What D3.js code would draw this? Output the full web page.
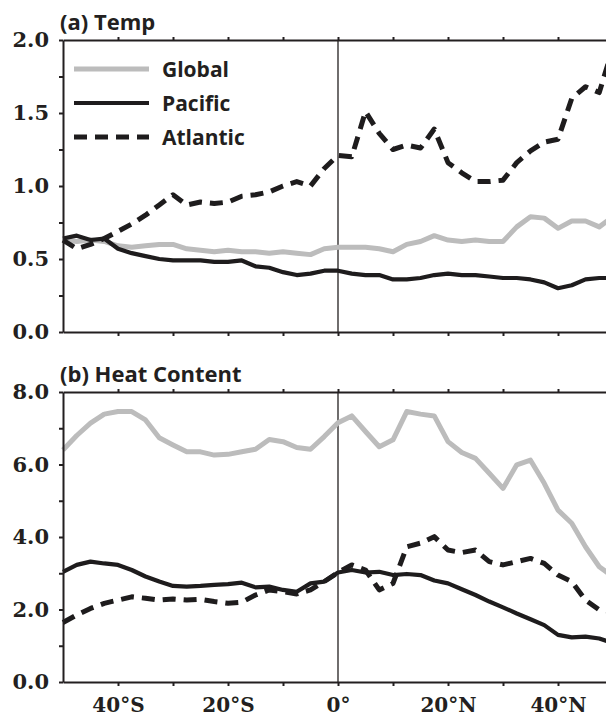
<!DOCTYPE html>
<html>
<head>
<meta charset="utf-8">
<script src="https://cdn.jsdelivr.net/npm/d3@7"></script>
<style>
  body { margin: 0; background: #fff; }
  svg { display: block; }
  .title { font: 700 22px "Open Sans", sans-serif; fill: #231f20; }
  .legend { font: 700 21px "Open Sans", sans-serif; fill: #231f20; }
  .tick text { font: 700 21px "DejaVu Serif", serif; fill: #231f20; }
  .xlab .tick text { font-size: 20px; }
</style>
</head>
<body>
<svg id="chart" width="606" height="717"></svg>
<script>
// latitude grid (deg, negative = south)
const lats = [-50, -47.5, -45, -42.5, -40, -37.5, -35, -32.5, -30, -27.5, -25, -22.5, -20,
  -17.5, -15, -12.5, -10, -7.5, -5, -2.5, 0, 2.5, 5, 7.5, 10, 12.5, 15, 17.5, 20, 22.5, 25,
  27.5, 30, 32.5, 35, 37.5, 40, 42.5, 45, 47.5, 50];

// (a) temperature
const tempGlobal = [0.63, 0.62, 0.63, 0.62, 0.59, 0.58, 0.59, 0.60, 0.60, 0.57, 0.56, 0.55, 0.56,
  0.55, 0.55, 0.54, 0.55, 0.54, 0.53, 0.57, 0.58, 0.58, 0.58, 0.57, 0.55, 0.60, 0.62, 0.66, 0.63,
  0.62, 0.63, 0.62, 0.62, 0.72, 0.79, 0.78, 0.71, 0.76, 0.76, 0.72, 0.79];
const tempPacific = [0.64, 0.66, 0.63, 0.64, 0.57, 0.54, 0.52, 0.50, 0.49, 0.49, 0.49, 0.48, 0.48,
  0.49, 0.45, 0.44, 0.41, 0.39, 0.40, 0.42, 0.42, 0.40, 0.39, 0.39, 0.36, 0.36, 0.37, 0.39, 0.40,
  0.39, 0.39, 0.38, 0.37, 0.37, 0.36, 0.34, 0.30, 0.32, 0.36, 0.37, 0.37];
const tempAtlantic = [0.63, 0.57, 0.60, 0.64, 0.69, 0.74, 0.80, 0.87, 0.94, 0.87, 0.89, 0.88, 0.89,
  0.93, 0.94, 0.96, 1.00, 1.03, 1.00, 1.12, 1.21, 1.20, 1.51, 1.36, 1.25, 1.28, 1.26, 1.39, 1.16,
  1.09, 1.03, 1.03, 1.04, 1.16, 1.24, 1.30, 1.32, 1.60, 1.68, 1.64, 1.95];

// (b) heat content
const hcGlobal = [6.40, 6.80, 7.14, 7.39, 7.46, 7.46, 7.23, 6.74, 6.54, 6.35, 6.35, 6.26, 6.28,
  6.35, 6.42, 6.69, 6.63, 6.47, 6.42, 6.77, 7.15, 7.34, 6.91, 6.49, 6.68, 7.46, 7.39, 7.34, 6.63,
  6.33, 6.17, 5.76, 5.34, 5.99, 6.12, 5.48, 4.74, 4.38, 3.73, 3.18, 2.90];
const hcPacific = [3.04, 3.23, 3.32, 3.27, 3.23, 3.09, 2.91, 2.77, 2.65, 2.63, 2.65, 2.68, 2.70,
  2.74, 2.61, 2.63, 2.54, 2.49, 2.72, 2.77, 3.02, 3.09, 3.02, 3.04, 2.95, 2.98, 2.95, 2.80, 2.72,
  2.56, 2.40, 2.22, 2.06, 1.89, 1.73, 1.57, 1.30, 1.23, 1.25, 1.20, 1.07];
const hcAtlantic = [1.64, 1.85, 2.03, 2.17, 2.26, 2.35, 2.31, 2.26, 2.29, 2.26, 2.28, 2.22, 2.17,
  2.20, 2.40, 2.54, 2.49, 2.43, 2.54, 2.77, 3.02, 3.23, 3.09, 2.54, 2.72, 3.73, 3.83, 4.01, 3.64,
  3.57, 3.64, 3.32, 3.23, 3.32, 3.41, 3.27, 2.95, 2.77, 2.26, 1.99, 1.94];

const legendNames = ["Global", "Pacific", "Atlantic"];
const xLabelTicks = [-40, -20, 0, 20, 40];
const tempTicks = [0, 0.5, 1.0, 1.5, 2.0];
const hcTicks = [0, 2, 4, 6, 8];

const fmtLat = d => d === 0 ? "0°" : Math.abs(d) + "°" + (d < 0 ? "S" : "N");

const styles = [
  { color: "#bcbcbc", width: 5, dash: null },
  { color: "#1e1c1d", width: 4.2, dash: null },
  { color: "#1e1c1d", width: 5, dash: "13,8" }
];

const svg = d3.select("#chart");
const x = d3.scaleLinear().domain([-50, 50]).range([63, 613]);

function drawPanel(cfg) {
  const y = d3.scaleLinear().domain(cfg.domain).range([cfg.bottom, cfg.top]);
  const g = svg.append("g");

  // zero-latitude line
  g.append("line")
    .attr("x1", x(0)).attr("x2", x(0))
    .attr("y1", cfg.top).attr("y2", cfg.bottom)
    .attr("stroke", "#231f20").attr("stroke-width", 1.3);

  const line = d3.line()
    .x((d, i) => x(lats[i]))
    .y(d => y(d));

  cfg.series.forEach((s, i) => {
    g.append("path")
      .datum(s)
      .attr("d", line)
      .attr("fill", "none")
      .attr("stroke", styles[i].color)
      .attr("stroke-width", styles[i].width)
      .attr("stroke-dasharray", styles[i].dash)
      .attr("stroke-linejoin", "round");
  });

  // axes
  const axisStyle = sel => {
    sel.select(".domain").attr("stroke", "#231f20").attr("stroke-width", 2);
    sel.selectAll(".tick line").attr("stroke", "#231f20").attr("stroke-width", 2);
  };

  g.append("g")
    .attr("transform", `translate(0,${cfg.top})`)
    .call(d3.axisTop(x).tickValues(d3.range(-40, 51, 10)).tickSize(3).tickSizeOuter(0).tickFormat(""))
    .call(axisStyle);

  const bottom = g.append("g")
    .attr("class", "xlab")
    .attr("transform", `translate(0,${cfg.bottom})`)
    .call(d3.axisBottom(x).tickValues(d3.range(-40, 51, 10)).tickSize(4).tickSizeOuter(0)
      .tickFormat(d => cfg.xLabels && xLabelTicks.includes(d) ? fmtLat(d) : ""))
    .call(axisStyle);
  bottom.selectAll(".tick text").attr("y", 16).attr("dy", "0.71em").attr("fill", "#231f20");

  const left = g.append("g")
    .attr("transform", `translate(${x(-50)},0)`)
    .call(d3.axisLeft(y).tickValues(d3.range(cfg.domain[0], cfg.domain[1] + 1e-9, cfg.minor))
      .tickSize(4).tickSizeOuter(0)
      .tickFormat(d => cfg.ticks.some(t => Math.abs(t - d) < 1e-9) ? d3.format(".1f")(d) : ""))
    .call(axisStyle);
  left.selectAll(".tick text").attr("x", -14).attr("fill", "#231f20");

  g.append("text").attr("class", "title")
    .attr("x", 60).attr("y", cfg.top - 10)
    .text(cfg.title);

  return y;
}

drawPanel({
  title: "(a) Temp", top: 40, bottom: 332, domain: [0, 2], minor: 0.25,
  ticks: tempTicks, series: [tempGlobal, tempPacific, tempAtlantic], xLabels: false
});
drawPanel({
  title: "(b) Heat Content", top: 392, bottom: 682, domain: [0, 8], minor: 1,
  ticks: hcTicks, series: [hcGlobal, hcPacific, hcAtlantic], xLabels: true
});

// legend
const legend = svg.append("g");
legendNames.forEach((name, i) => {
  const ly = 69 + i * 34;
  legend.append("line")
    .attr("x1", 74).attr("x2", 149).attr("y1", ly).attr("y2", ly)
    .attr("stroke", styles[i].color)
    .attr("stroke-width", styles[i].width)
    .attr("stroke-dasharray", styles[i].dash);
  legend.append("text").attr("class", "legend")
    .attr("x", 162).attr("y", ly + 8)
    .text(name);
});
</script>
</body>
</html>
